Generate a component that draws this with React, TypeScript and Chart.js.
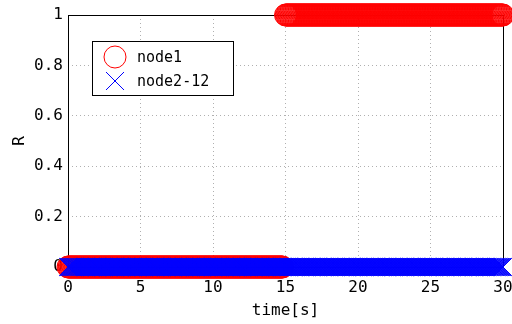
import React, { useEffect, useRef } from "react";
import { Chart, registerables } from "chart.js";

Chart.register(...registerables);

// Sampling grid of the simulation (seconds)
const timeStart = 0;
const timeEnd = 30;
const sampleStep = 0.05;

// Piecewise-constant values
const node1Levels = [
  { from: 0, to: 14.8, value: 0 },
  { from: 15, to: 30, value: 1 },
];
const node2to12Levels = [{ from: 0, to: 30, value: 0 }];

const seriesNames = ["node1", "node2-12"];
const xTicks = [0, 5, 10, 15, 20, 25, 30];
const yTicks = [0, 0.2, 0.4, 0.6, 0.8, 1];

const FONT = "'DejaVu Sans Mono', monospace";

function expand(levels: { from: number; to: number; value: number }[]) {
  const pts: { x: number; y: number }[] = [];
  const n = Math.round((timeEnd - timeStart) / sampleStep);
  for (let i = 0; i <= n; i++) {
    const t = +(timeStart + i * sampleStep).toFixed(4);
    for (const l of levels) {
      if (t >= l.from - 1e-9 && t <= l.to + 1e-9) {
        pts.push({ x: t, y: l.value });
        break;
      }
    }
  }
  return pts;
}

// Keep the plot box at the same right edge as the reference
const areaPlugin = {
  id: "fixArea",
  afterLayout(chart: any) {
    const targetRight = 503;
    const a = chart.chartArea;
    a.right = targetRight;
    a.width = a.right - a.left;
    const xs = chart.scales.x;
    xs.right = targetRight;
    xs.width = xs.right - xs.left;
    xs.configure();
  },
};

const framePlugin = {
  id: "frame",
  beforeDatasetsDraw(chart: any) {
    const { ctx, chartArea: a } = chart;
    ctx.save();
    ctx.strokeStyle = "#000";
    ctx.lineWidth = 1;
    ctx.strokeRect(Math.round(a.left) + 0.5, Math.round(a.top) + 0.5, Math.round(a.right - a.left), Math.round(a.bottom - a.top));
    ctx.restore();
  },
};

const legendPlugin = {
  id: "boxLegend",
  afterDraw(chart: any) {
    const { ctx } = chart;
    const x = 92.5, y = 41.5, w = 141, h = 54;
    ctx.save();
    ctx.fillStyle = "#fff";
    ctx.fillRect(x, y, w, h);
    ctx.strokeStyle = "#000";
    ctx.lineWidth = 1;
    ctx.strokeRect(x, y, w, h);
    ctx.strokeStyle = "#ff0000";
    ctx.beginPath();
    ctx.arc(115, 57, 11, 0, Math.PI * 2);
    ctx.stroke();
    ctx.strokeStyle = "#0000ff";
    ctx.beginPath();
    ctx.moveTo(106, 72);
    ctx.lineTo(124, 90);
    ctx.moveTo(124, 72);
    ctx.lineTo(106, 90);
    ctx.stroke();
    ctx.fillStyle = "#000";
    ctx.font = `15px ${FONT}`;
    ctx.textBaseline = "middle";
    ctx.fillText(seriesNames[0], 137, 58);
    ctx.fillText(seriesNames[1], 137, 82);
    ctx.restore();
  },
};

export default function App() {
  const ref = useRef<HTMLCanvasElement>(null);
  useEffect(() => {
    if (!ref.current) return;
    const chart = new Chart(ref.current, {
      type: "scatter",
      data: {
        datasets: [
          {
            label: seriesNames[1],
            data: expand(node2to12Levels),
            pointStyle: "crossRot",
            pointRadius: 12.5,
            borderColor: "#0000ff",
            backgroundColor: "#0000ff",
            borderWidth: 1,
            order: 0,
            clip: false as any,
          },
          {
            label: seriesNames[0],
            data: expand(node1Levels),
            pointStyle: "circle",
            pointRadius: 11,
            borderColor: "#ff0000",
            backgroundColor: "rgba(0,0,0,0)",
            borderWidth: 1,
            order: 1,
            clip: false as any,
          },
        ],
      },
      options: {
        animation: false,
        responsive: false,
        events: [],
        layout: { autoPadding: false, padding: { left: 0, right: 9, top: 15, bottom: 0 } } as any,
        plugins: { legend: { display: false }, tooltip: { enabled: false } },
        scales: {
          x: {
            type: "linear",
            min: xTicks[0],
            max: xTicks[xTicks.length - 1],
            afterBuildTicks: (s: any) => {
              s.ticks = xTicks.map((v) => ({ value: v }));
            },
            afterFit: (s: any) => {
              s.height = 57;
            },
            grid: {
              color: (c: any) => (c.tick && (c.tick.value === 0 || c.tick.value === 30) ? "rgba(0,0,0,0)" : "#b0b0b0"),
              drawTicks: false,
            },
            border: { display: false, dash: [1, 3] },
            ticks: { color: "#000", font: { family: FONT, size: 16 }, padding: 11, maxRotation: 0 },
            title: { display: true, text: "time[s]", color: "#000", font: { family: FONT, size: 16 }, padding: { top: 0, bottom: 4 } },
          },
          y: {
            type: "linear",
            min: yTicks[0],
            max: yTicks[yTicks.length - 1],
            afterBuildTicks: (s: any) => {
              s.ticks = yTicks.map((v) => ({ value: v }));
            },
            afterFit: (s: any) => {
              s.width = 68;
            },
            grid: {
              color: (c: any) => (c.tick && (c.tick.value === 0 || c.tick.value === 1) ? "rgba(0,0,0,0)" : "#b0b0b0"),
              drawTicks: false,
            },
            border: { display: false, dash: [1, 3] },
            ticks: {
              color: "#000",
              font: { family: FONT, size: 16 },
              padding: 5,
              callback: (v: any) => String(Math.round(Number(v) * 10) / 10),
            },
            title: { display: true, text: "R", color: "#000", font: { family: FONT, size: 16 }, padding: { top: 10, bottom: 0 } },
          },
        },
      },
      plugins: [areaPlugin, framePlugin, legendPlugin],
    });
    return () => chart.destroy();
  }, []);
  return (
    <div style={{ position: "absolute", left: 0, top: 0, width: 512, height: 324, background: "#fff" }}>
      <canvas ref={ref} width={512} height={324} style={{ display: "block" }} />
    </div>
  );
}
